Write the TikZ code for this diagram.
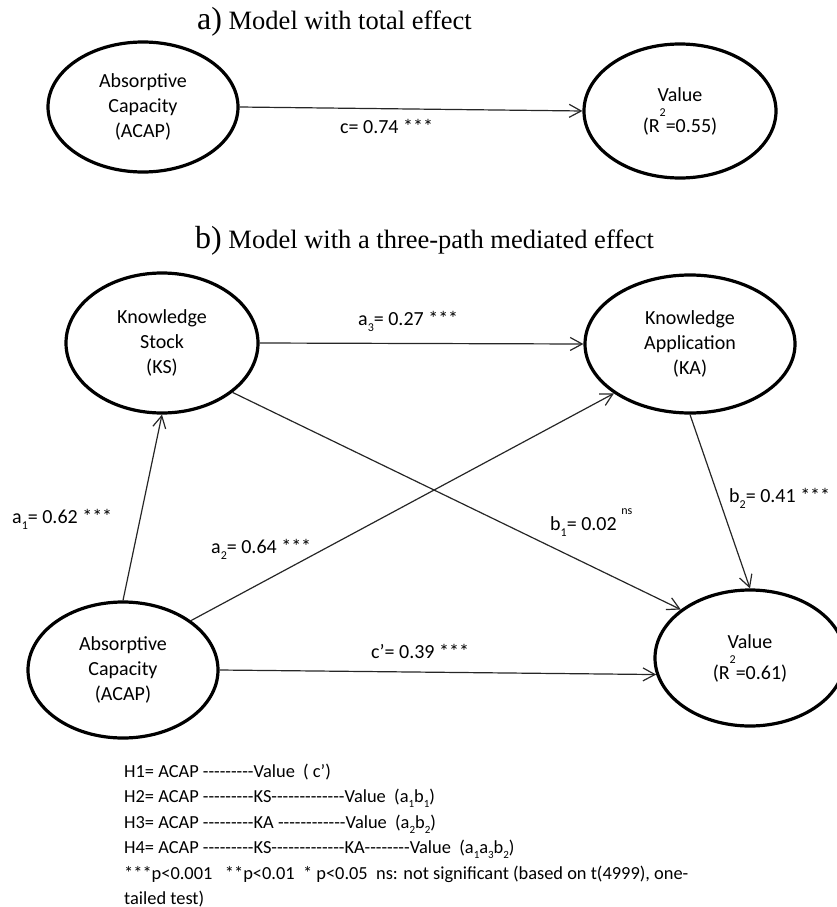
\documentclass[tikz,border=0pt]{standalone}
\usepackage{fontspec}
\setmainfont{Carlito}[Ligatures=TeXOff]
\newfontfamily\titlefont{Liberation Serif}
\usetikzlibrary{shapes.geometric,arrows.meta}

% small lowered / raised indices
\newcommand\lsub[1]{\raisebox{-6pt}{\fontsize{12}{12}\selectfont #1}}
\newcommand\nsub[1]{\raisebox{-5pt}{\fontsize{11}{11}\selectfont #1}}
\newcommand\hsup[1]{\raisebox{16pt}{\fontsize{12}{12}\selectfont #1}}

\tikzset{
  latent/.style={ellipse, draw=black, line width=3.2pt, inner sep=0pt,
    align=center, font=\fontsize{20}{25}\selectfont},
  effect/.style={draw=black!85, line width=1.2pt,
    -{Straight Barb[length=12pt,width=13pt,line width=1.2pt]}},
  coef/.style={anchor=base west, inner sep=0pt, font=\fontsize{20}{25}\selectfont},
  note/.style={anchor=base west, inner sep=0pt, font=\fontsize{18.4}{25}\selectfont},
  heading/.style={anchor=base west, inner sep=0pt,
    font=\titlefont\fontsize{26.5}{30}\selectfont},
}

\begin{document}
\begin{tikzpicture}[x=1pt,y=-1pt]
\useasboundingbox (0,0) rectangle (837,907);

% ---------- a) total effect ----------
\node[heading] (ta) at (197,30) {{\fontsize{32}{32}\selectfont a)} Model with total effect};

\node[latent, minimum width=190pt, minimum height=130pt] (A1) at (143,107)
  {Absorptive\\Capacity\\(ACAP)};
\node[latent, minimum width=192pt, minimum height=134pt] (V1) at (680,111)
  {Value\\[6pt](R\hsup{2}=0.55)};

\draw[effect] (A1.east) -- (V1.west);
\node[coef] (lc) at (340,133) {c= 0.74 ***};

% ---------- b) three-path mediated effect ----------
\node[heading] (tb) at (195,248) {{\fontsize{32}{32}\selectfont b)} Model with a three-path mediated effect};

\node[latent, minimum width=192pt, minimum height=140pt] (KS) at (162,343)
  {Knowledge\\Stock\\(KS)};
\node[latent, minimum width=210pt, minimum height=138pt] (KA) at (690,344)
  {Knowledge\\Application\\(KA)};
\node[latent, minimum width=190pt, minimum height=136pt] (AC) at (123,670)
  {Absorptive\\Capacity\\(ACAP)};
\node[latent, minimum width=190pt, minimum height=136pt] (V2) at (750,658)
  {Value\\[6pt](R\hsup{2}=0.61)};

\draw[effect] (KS.east) -- (KA.west);
\draw[effect] (AC.north) -- (KS.south);
\draw[effect] (AC.36) -- (KA.213);
\draw[effect] (KS.325) -- (V2.145);
\draw[effect] (KA.south) -- (V2.north);
\draw[effect] (AC.east) -- (V2.190);

\node[coef] (la3) at (358,325) {a\lsub{3}= 0.27 ***};
\node[coef] (la1) at (12,523) {a\lsub{1}= 0.62 ***};
\node[coef] (la2) at (211,553) {a\lsub{2}= 0.64 ***};
\node[coef] (lb1) at (550,530) {b\lsub{1}= 0.02 \hsup{ns}};
\node[coef] (lb2) at (729,502) {b\lsub{2}= 0.41 ***};
\node[coef] (lcp) at (371,658) {c’= 0.39 ***};

% ---------- hypotheses and notes ----------
\node[note] (h1) at (124,777) {H1= ACAP ---------Value\ \ ( c’)};
\node[note] (h2) at (124,802) {H2= ACAP ---------KS-------------Value\ \ (a\nsub{1}b\nsub{1})};
\node[note] (h3) at (124,828) {H3= ACAP ---------KA ------------Value\ \ (a\nsub{2}b\nsub{2})};
\node[note] (h4) at (124,853) {H4= ACAP ---------KS-------------KA--------Value\ \ (a\nsub{1}a\nsub{3}b\nsub{2})};
\node[note] (h5) at (124,879) {***p<0.001\ \ \ **p<0.01\ \ * p<0.05\ \ ns: not significant (based on t(4999), one-};
\node[note] (h6) at (124,904) {tailed test)};
\end{tikzpicture}
\end{document}
